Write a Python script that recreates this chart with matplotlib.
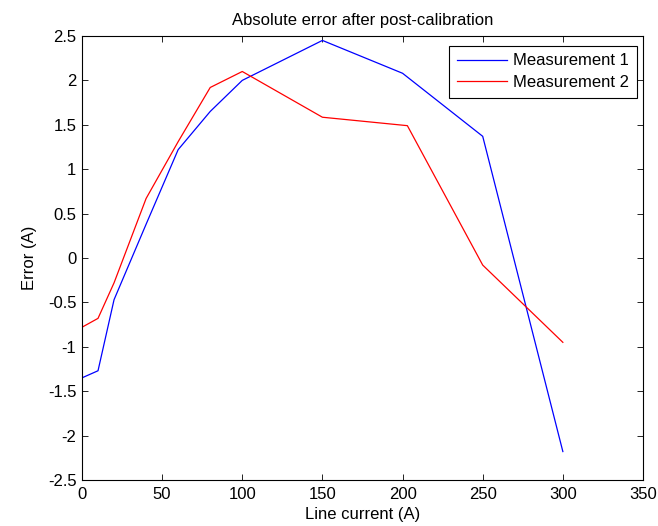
import matplotlib
matplotlib.use('Agg')
import matplotlib.pyplot as plt

# Данные
current_1 = [0, 10, 20, 40, 60, 80, 100, 150, 200, 250, 300]
error_1 = [-1.35, -1.27, -0.47, 0.38, 1.22, 1.65, 2.0, 2.45, 2.08, 1.37, -2.18]

current_2 = [0, 10, 20, 40, 60, 80, 100, 150, 203, 250, 300]
error_2 = [-0.78, -0.68, -0.28, 0.67, 1.31, 1.92, 2.10, 1.585, 1.49, -0.08, -0.95]

plt.rcParams['font.family'] = ['Liberation Sans', 'DejaVu Sans']
plt.rcParams['font.size'] = 12

fig = plt.figure(figsize=(6.58, 5.26), dpi=100)
ax = fig.add_axes([0.1246, 0.0875, 0.8526, 0.8441])

ax.plot(current_1, error_1, color='blue', linewidth=0.9, label='Measurement 1')
ax.plot(current_2, error_2, color='red', linewidth=0.9, label='Measurement 2')

ax.set_xlim(0, 350)
ax.set_ylim(-2.5, 2.5)
ax.set_xticks(range(0, 351, 50))
ax.set_yticks([-2.5, -2, -1.5, -1, -0.5, 0, 0.5, 1, 1.5, 2, 2.5])
ax.set_yticklabels(['-2.5', '-2', '-1.5', '-1', '-0.5', '0', '0.5', '1', '1.5', '2', '2.5'])
ax.tick_params(direction='in', top=True, right=True, length=4, width=0.6)
ax.tick_params(axis='x', pad=5)
ax.tick_params(axis='y', pad=4)
for s in ax.spines.values():
    s.set_linewidth(0.8)

ax.set_title('Absolute error after post-calibration', fontsize=12, pad=8)
ax.set_xlabel('Line current (A)', labelpad=4)
ax.set_ylabel('Error (A)', labelpad=8)

leg = ax.legend(loc='upper right', bbox_to_anchor=(0.9893, 0.9775),
                borderaxespad=0, fancybox=False, edgecolor='black',
                framealpha=1, handlelength=3.05, handletextpad=0.36,
                borderpad=0.45, labelspacing=0.4)
leg.get_frame().set_linewidth(0.8)

fig.savefig('out.png', dpi=100)
